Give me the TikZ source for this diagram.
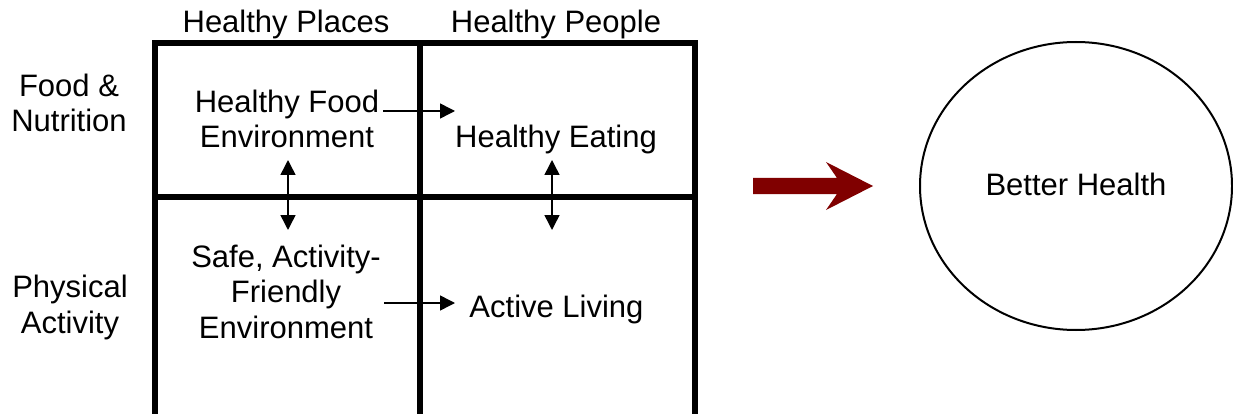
\documentclass[tikz,border=0pt]{standalone}
\usepackage{fontspec}
\setmainfont{Liberation Sans}
\usetikzlibrary{arrows.meta,shapes.geometric}
\newcommand\diagfont{\fontsize{31}{35.5}\selectfont}
\newcommand\mlines[1]{\begin{tabular}[b]{@{}c@{}}#1\end{tabular}}
\definecolor{arrowred}{RGB}{128,0,0}
\begin{document}
\begin{tikzpicture}[x=1pt,y=-1pt,
  lbl/.style={font=\diagfont, inner sep=0pt, anchor=base},
  gridline/.style={line width=6pt, line cap=rect},
  link/.style={line width=1.5pt, -{Triangle[length=15pt,width=15pt]}},
  dlink/.style={line width=1.5pt, {Triangle[length=15pt,width=15pt]}-{Triangle[length=15pt,width=15pt]}}]
\useasboundingbox (0,0) rectangle (1233,414);

% grid
\begin{scope}
\clip (0,0) rectangle (1233,414);
\coordinate (tl) at (155,43.5);
\coordinate (tm) at (420,43.5);
\coordinate (tr) at (695,43.5);
\coordinate (ml) at (155,196.5);
\coordinate (mr) at (695,196.5);
\coordinate (bl) at (155,430);
\coordinate (bm) at (420,430);
\coordinate (br) at (695,430);
\draw[gridline] (tl) -- (tr);
\draw[gridline] (ml) -- (mr);
\draw[gridline] (tl) -- (bl);
\draw[gridline] (tm) -- (bm);
\draw[gridline] (tr) -- (br);
\end{scope}

% headers
\node[lbl] (places) at (286,33) {Healthy Places};
\node[lbl] (people) at (556,33) {Healthy People};
\node[lbl] (food) at (69,132) {\mlines{Food \&\\Nutrition}};
\node[lbl] (phys) at (70,333) {\mlines{Physical\\Activity}};

% cells
\node[lbl] (hfe) at (287,148) {\mlines{Healthy Food\\Environment}};
\node[lbl] (he) at (556,148) {Healthy Eating};
\node[lbl] (safe) at (286,338) {\mlines{Safe, Activity-\\Friendly\\Environment}};
\node[lbl] (al) at (556.5,317) {Active Living};

% connectors
\coordinate (a1s) at (383,111);
\coordinate (a1e) at (455,111);
\coordinate (a2s) at (384,303);
\coordinate (a2e) at (455,303);
\coordinate (v1t) at (288,160);
\coordinate (v1b) at (288,230);
\coordinate (v2t) at (552,160);
\coordinate (v2b) at (552,230);
\draw[link] (a1s) -- (a1e);
\draw[link] (a2s) -- (a2e);
\draw[dlink] (v1t) -- (v1b);
\draw[dlink] (v2t) -- (v2b);

% big red arrow
\fill[arrowred] (753,178) -- (837,178) -- (826,162) -- (873,186) -- (826,210) -- (837,194) -- (753,194) -- cycle;

% outcome
\node[draw, line width=2pt, ellipse, minimum width=312pt, minimum height=288pt, inner sep=0pt] (bh) at (1076,186) {};
\node[lbl] (bhtext) at (1076,195) {Better Health};
\end{tikzpicture}
\end{document}
